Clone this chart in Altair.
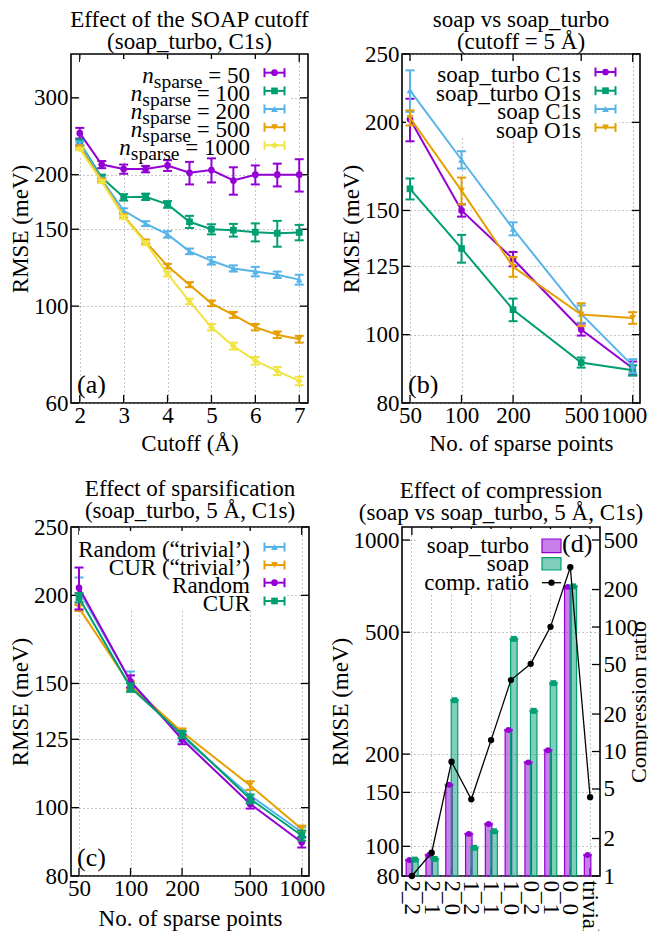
import altair as alt
import pandas as pd

FONT = "Liberation Serif"
FS = 23
PURPLE, GREEN, BLUE, ORANGE, YELLOW = "#9400d3", "#009e73", "#56b4e9", "#e69f00", "#f0e442"

# ---------------- panel (a): effect of cutoff ----------------
cutoff = [2, 2.5, 3, 3.5, 4, 4.5, 5, 5.5, 6, 6.5, 7]
a_n50 = [249, 211, 206, 206, 210, 202, 205, 194, 200, 200, 200]
a_n50_err = [7, 4, 5, 3.5, 6, 12, 13, 14, 10, 12, 17]
a_n100 = [237, 197, 177.5, 178, 171, 156, 150, 149.3, 147.7, 146.8, 147.5]
a_n100_err = [4, 3, 3, 3, 3, 5, 4, 5, 7, 10, 6]
a_n200 = [236, 195, 165.5, 154.5, 146, 133.5, 127, 122, 120, 118, 115]
a_n200_err = [2, 2, 2, 2, 2.5, 2, 2.5, 2, 3, 2, 3]
a_n500 = [231, 194, 161, 140.5, 123.5, 112, 101.5, 95.5, 89.5, 86, 84]
a_n500_err = [2, 1.5, 1.5, 1.5, 1.5, 1.5, 1.5, 1.5, 1.5, 1.5, 1.5]
a_n1000 = [229, 193, 160, 139.5, 118.5, 102.5, 89.5, 81, 75, 71, 67.4]
a_n1000_err = [1.5, 1.5, 1.5, 1.5, 1.5, 1.5, 1.5, 1.5, 1.5, 1.5, 1.5]
a_labels = ["50", "100", "200", "500", "1000"]

# ---------------- panel (b): soap vs soap_turbo ----------------
sparse = [50, 100, 200, 500, 1000]
b_turbo_c = [202, 150, 128, 101.7, 89.6]
b_turbo_c_err = [14, 3, 3, 2, 2]
b_turbo_o = [161, 132.5, 108.5, 91.3, 89]
b_turbo_o_err = [5.5, 6, 4, 1.5, 1.5]
b_soap_c = [222, 177, 141.3, 107, 90.3]
b_soap_c_err = [15, 5, 3, 3, 2]
b_soap_o = [203, 160, 124.8, 106.8, 105.6]
b_soap_o_err = [5, 7, 4, 4, 2]
b_labels = ["soap_turbo C1s", "soap_turbo O1s", "soap C1s", "soap O1s"]

# ---------------- panel (c): sparsification ----------------
c_rand_triv = [203, 151, 126, 104, 92.3]
c_rand_triv_err = [9, 5, 2, 2, 1.5]
c_cur_triv = [192, 149, 128, 107.5, 93.3]
c_cur_triv_err = [2, 2, 1.5, 1.5, 1]
c_rand = [205, 151, 125, 101.2, 89.3]
c_rand_err = [14, 3, 2, 1.5, 1.5]
c_cur = [198.5, 148, 127, 102.9, 91.3]
c_cur_err = [3, 2, 1.5, 1.5, 1.5]
c_labels = ["Random (\u201ctrivial\u2019)", "CUR (\u201ctrivial\u2019)", "Random", "CUR"]

# ---------------- panel (d): compression ----------------
d_cats = ["2_2", "2_1", "2_0", "1_2", "1_1", "1_0", "0_2", "0_1", "0_0", "trivial"]
d_turbo = [90.2, 93.7, 158.8, 109.8, 118.3, 239.7, 188, 206, 703, 93.7]
d_soap_cats = ["2_2", "2_1", "2_0", "1_2", "1_1", "1_0", "0_2", "0_1", "0_0"]
d_soap = [90.5, 91, 300, 98.9, 112, 475.7, 277, 341, 706]
d_ratio = [1, 1.54, 8.27, 4.13, 12.35, 37.5, 50.6, 100.3, 302, 4.3]
d_labels = ["soap_turbo", "soap", "comp. ratio"]

H = 349
DUMMY = pd.DataFrame({"a": [0]})
TICK_L = 8


def series(x, y, err, color, shape, X, yscale, yaxis):
    df = pd.DataFrame({"x": x, "y": y,
                       "lo": [v - e for v, e in zip(y, err)],
                       "hi": [v + e for v, e in zip(y, err)]})
    base = alt.Chart(df)
    Y = alt.Y("y:Q", scale=yscale, axis=yaxis)
    Ylo = alt.Y("lo:Q", scale=yscale, axis=yaxis)
    Yhi = alt.Y("hi:Q", scale=yscale, axis=yaxis)
    return [
        base.mark_line(color=color, strokeWidth=2).encode(x=X, y=Y),
        base.mark_rule(color=color, strokeWidth=2).encode(x=X, y=Ylo, y2="hi:Q"),
        base.mark_rule(color=color, strokeWidth=2, xOffset=-4.5, x2Offset=4.5).encode(x=X, x2="x:Q", y=Ylo),
        base.mark_rule(color=color, strokeWidth=2, xOffset=-4.5, x2Offset=4.5).encode(x=X, x2="x:Q", y=Yhi),
        base.mark_point(shape=shape, filled=True, size=45, color=color, opacity=1).encode(x=X, y=Y),
    ]


def yticks(vals, yscale, yaxis, W, left=True, right=True):
    df = pd.DataFrame({"t": vals})
    Y = alt.Y("t:Q", scale=yscale, axis=yaxis)
    out = []
    if left:
        out.append(alt.Chart(df).mark_rule(color="black", strokeWidth=1.3).encode(
            y=Y, x=alt.value(0), x2=alt.value(TICK_L)))
    if right:
        out.append(alt.Chart(df).mark_rule(color="black", strokeWidth=1.3).encode(
            y=Y, x=alt.value(W - TICK_L), x2=alt.value(W)))
    return out


def xticks(df, X):
    return [
        alt.Chart(df).mark_rule(color="black", strokeWidth=1.3).encode(
            x=X, y=alt.value(0), y2=alt.value(TICK_L)),
        alt.Chart(df).mark_rule(color="black", strokeWidth=1.3).encode(
            x=X, y=alt.value(H - TICK_L), y2=alt.value(H)),
    ]


def box(x0, x1, y0, y1):
    return alt.Chart(DUMMY).mark_rect(fill="white", stroke=None).encode(
        x=alt.value(x0), x2=alt.value(x1), y=alt.value(y0), y2=alt.value(y1))


def text(s, x, y, align="right", size=FS, style="normal"):
    return alt.Chart(DUMMY).mark_text(
        text=s, align=align, baseline="alphabetic", font=FONT, fontSize=size,
        fontStyle=style, color="black").encode(x=alt.value(x), y=alt.value(y))


def err_symbol(cx, cy, color, shape):
    return [
        alt.Chart(DUMMY).mark_rule(color=color, strokeWidth=2).encode(
            x=alt.value(cx - 10), x2=alt.value(cx + 10), y=alt.value(cy)),
        alt.Chart(DUMMY).mark_rule(color=color, strokeWidth=2).encode(
            x=alt.value(cx - 10), y=alt.value(cy - 4.5), y2=alt.value(cy + 4.5)),
        alt.Chart(DUMMY).mark_rule(color=color, strokeWidth=2).encode(
            x=alt.value(cx + 10), y=alt.value(cy - 4.5), y2=alt.value(cy + 4.5)),
        alt.Chart(DUMMY).mark_point(shape=shape, filled=True, size=45, color=color, opacity=1).encode(
            x=alt.value(cx), y=alt.value(cy)),
    ]


# Times / Liberation Serif advance widths (per em)
WID = {" ": 0.25, "=": 0.564, "s": 0.389, "p": 0.5, "a": 0.444, "r": 0.333, "e": 0.444}
for d in "0123456789":
    WID[d] = 0.5


def tw(s, size):
    return sum(WID[c] for c in s) * size


PANEL_LABEL_SIZE = 26
COLORS = [PURPLE, GREEN, BLUE, ORANGE, YELLOW]
SHAPES = ["circle", "square", "triangle-up", "triangle-down", "diamond"]


def two_line_title(l1, l2, off):
    return alt.Title(l1, subtitle=l2, offset=off)


# ================= panel (a) =================
WA = 237
xs_a = alt.Scale(domain=[1.8, 7.2], nice=False, zero=False)
ys_a = alt.Scale(type="log", domain=[60, 378], nice=False)
ax_a_x = alt.Axis(values=[2, 3, 4, 5, 6, 7], title="Cutoff (\u00c5)", format="d")
ax_a_y = alt.Axis(values=[60, 100, 150, 200, 300], title="RMSE (meV)", format="d")
Xa = alt.X("x:Q", scale=xs_a, axis=ax_a_x)

layers_a = []
layers_a += xticks(pd.DataFrame({"x": [2, 3, 4, 5, 6, 7]}), Xa)
layers_a += yticks([60, 100, 150, 200, 300], ys_a, ax_a_y, WA)
layers_a.append(box(9, 219, 5, 102))
for yv, ev, col, shp in zip([a_n50, a_n100, a_n200, a_n500, a_n1000],
                            [a_n50_err, a_n100_err, a_n200_err, a_n500_err, a_n1000_err],
                            COLORS, SHAPES):
    layers_a += series(cutoff, yv, ev, col, shp, Xa, ys_a, ax_a_y)
rows_a = [18.7, 36.9, 55.0, 73.2, 91.3]
SUB = 19.5
for lab, ry, col, shp in zip(a_labels, rows_a, COLORS, SHAPES):
    base_y = ry + 10
    eq = "= " + lab
    w1 = tw(eq, FS) + tw(" ", FS)
    w2 = tw("sparse", SUB)
    layers_a.append(text(eq, 179, base_y))
    layers_a.append(text("sparse", 179 - w1, base_y + 5, size=SUB))
    layers_a.append(text("n", 179 - w1 - w2, base_y, style="italic"))
    layers_a += err_symbol(203.5, ry, col, shp)
layers_a.append(text("(a)", 6, 338.5, align="left", size=PANEL_LABEL_SIZE))

panel_a = alt.layer(*layers_a).properties(
    width=WA, height=H,
    title=two_line_title("Effect of the SOAP cutoff", "(soap_turbo, C1s)", -1))

# ================= panels (b), (c) =================
WB = 238
xs_b = alt.Scale(type="log", domain=[44.9, 1103], nice=False)
ys_b = alt.Scale(type="log", domain=[80, 250], nice=False)
ax_b_x = alt.Axis(values=sparse, title="No. of sparse points", format="d",
                  labelFlush=7.6, labelFlushOffset=14)
ax_c_x = alt.Axis(values=sparse, title="No. of sparse points", format="d", titlePadding=7)
ax_b_y = alt.Axis(values=[80, 100, 125, 150, 200, 250], title="RMSE (meV)", format="d")


def sparse_panel(xaxis, series_list, labels, rows, colors, shapes, boxdims, panel_label, title, toff):
    Xb = alt.X("x:Q", scale=xs_b, axis=xaxis)
    L = []
    L += xticks(pd.DataFrame({"x": sparse}), Xb)
    L += yticks([80, 100, 125, 150, 200, 250], ys_b, ax_b_y, WB)
    L.append(box(*boxdims))
    for (yv, ev), col, shp in zip(series_list, colors, shapes):
        L += series(sparse, yv, ev, col, shp, Xb, ys_b, ax_b_y)
    for lab, ry, col, shp in zip(labels, rows, colors, shapes):
        L.append(text(lab, 179, ry + 10))
        L += err_symbol(203.5, ry, col, shp)
    L.append(text(panel_label, 6, 338.5, align="left", size=PANEL_LABEL_SIZE))
    return alt.layer(*L).properties(width=WB, height=H, title=two_line_title(title[0], title[1], toff))


panel_b = sparse_panel(
    ax_b_x,
    [(b_turbo_c, b_turbo_c_err), (b_turbo_o, b_turbo_o_err),
     (b_soap_c, b_soap_c_err), (b_soap_o, b_soap_o_err)],
    b_labels, [18, 36.7, 55, 73.5],
    [PURPLE, GREEN, BLUE, ORANGE], ["circle", "square", "triangle-up", "triangle-down"],
    (4, 217, 7, 84), "(b)", ["soap vs soap_turbo", "(cutoff = 5 \u00c5)"], -11)

panel_c = sparse_panel(
    ax_c_x,
    [(c_rand_triv, c_rand_triv_err), (c_cur_triv, c_cur_triv_err),
     (c_rand, c_rand_err), (c_cur, c_cur_err)],
    c_labels, [20, 38, 55.7, 74],
    [BLUE, ORANGE, PURPLE, GREEN], ["triangle-up", "triangle-down", "circle", "square"],
    (8, 216, 4, 82), "(c)", ["Effect of sparsification", "(soap_turbo, 5 \u00c5, C1s)"], -7)

# ================= panel (d) =================
WD = 198
xs_d = alt.Scale(domain=d_cats, paddingInner=0, paddingOuter=0)
ax_d_x = alt.Axis(title=None, labelAngle=90, labelAlign="left", labelBaseline="middle",
                  bandPosition=0.5, labelPadding=4)
ys_dl = alt.Scale(type="log", domain=[80, 1103], nice=False)
ys_dr = alt.Scale(type="log", domain=[1, 636], nice=False)
ax_dl = alt.Axis(values=[80, 100, 150, 200, 500, 1000], title="RMSE (meV)", format="d")
ax_dr = alt.Axis(values=[1, 2, 5, 10, 20, 50, 100, 200, 500], title="Compression ratio",
                 format="d", orient="right", grid=False, titleAngle=-90, titleBaseline="top",
                 labelPadding=3, titlePadding=-9, titleFontSize=22)
Xd = alt.X("c:N", sort=d_cats, scale=xs_d, axis=ax_d_x)

df_turbo = pd.DataFrame({"c": d_cats, "v": d_turbo})
df_soap = pd.DataFrame({"c": d_soap_cats, "v": d_soap})
df_ratio = pd.DataFrame({"c": d_cats, "r": d_ratio})

left = []
left += xticks(pd.DataFrame({"c": d_cats}), Xd)
left += yticks([80, 100, 150, 200, 500, 1000], ys_dl, ax_dl, WD, left=True, right=False)
left.append(box(14, 197, 2, 67))
Yl = alt.Y("v:Q", scale=ys_dl, axis=ax_dl)
for df, col, off in [(df_turbo, PURPLE, -2.5), (df_soap, GREEN, 3)]:
    left.append(alt.Chart(df).mark_bar(width=6.5, xOffset=off, fill=col, fillOpacity=0.5,
                                       stroke=col, strokeWidth=1.2).encode(
        x=Xd, y=Yl, y2=alt.datum(80)))
for df, col, off, shp in [(df_turbo, PURPLE, -2.5, "circle"), (df_soap, GREEN, 3, "square")]:
    left.append(alt.Chart(df).mark_tick(color=col, size=9, thickness=2.5, xOffset=off,
                                        orient="horizontal").encode(x=Xd, y=Yl))
    left.append(alt.Chart(df).mark_point(shape=shp, filled=True, size=35, color=col, opacity=1,
                                         xOffset=off).encode(x=Xd, y=Yl))
left_group = alt.layer(*left)

Yr = alt.Y("r:Q", scale=ys_dr, axis=ax_dr)
right = []
right += yticks([1, 2, 5, 10, 20, 50, 100, 200, 500], ys_dr, ax_dr, WD, left=False, right=True)
right.append(alt.Chart(df_ratio).mark_line(color="black", strokeWidth=1.3).encode(x=Xd, y=Yr))
right.append(alt.Chart(df_ratio).mark_circle(color="black", size=40, opacity=1).encode(x=Xd, y=Yr))
right_group = alt.layer(*right)

leg_d = []
leg_d.append(text(d_labels[0], 127, 26))
leg_d.append(text(d_labels[1], 127, 44))
leg_d.append(text(d_labels[2], 127, 62.5))
leg_d.append(alt.Chart(DUMMY).mark_rect(fill=PURPLE, fillOpacity=0.5, stroke=PURPLE, strokeWidth=1.2).encode(
    x=alt.value(140), x2=alt.value(159), y=alt.value(12), y2=alt.value(25.7)))
leg_d.append(alt.Chart(DUMMY).mark_rect(fill=GREEN, fillOpacity=0.5, stroke=GREEN, strokeWidth=1.2).encode(
    x=alt.value(140), x2=alt.value(159), y=alt.value(30.7), y2=alt.value(43)))
leg_d.append(alt.Chart(DUMMY).mark_rule(color="black", strokeWidth=1.3).encode(
    x=alt.value(140), x2=alt.value(159), y=alt.value(55.7)))
leg_d.append(alt.Chart(DUMMY).mark_circle(color="black", size=40, opacity=1).encode(
    x=alt.value(149.5), y=alt.value(55.7)))
leg_d.append(text("(d)", 160, 24.5, align="left", size=PANEL_LABEL_SIZE))

panel_d = alt.layer(left_group, right_group, *leg_d).resolve_scale(y="independent").properties(
    width=WD, height=H,
    title=two_line_title("Effect of compression", "(soap vs soap_turbo, 5 \u00c5, C1s)", 1))

chart = alt.concat(
    panel_a, panel_b, panel_c, panel_d, columns=2,
    spacing={"row": 124, "column": 93}, bounds="flush",
    padding={"left": 0, "top": 0, "right": -3, "bottom": 5},
).configure_view(
    stroke="black", strokeWidth=1.6
).configure_axis(
    labelFont=FONT, titleFont=FONT, labelFontSize=FS, titleFontSize=FS,
    titleFontWeight="normal", labelColor="black", titleColor="black",
    domain=False, ticks=False, grid=True, gridColor="#8a8a8a", gridDash=[1, 3],
    gridWidth=1, labelFlush=False, labelOverlap=False, labelPadding=3, titlePadding=1,
).configure_axisX(
    titlePadding=5, labelPadding=1
).configure_title(
    font=FONT, fontSize=FS, fontWeight="normal", anchor="middle", frame="group",
    color="black",
    subtitleFont=FONT, subtitleFontSize=FS, subtitleColor="black", subtitlePadding=-1
)

chart.save("out.html", embed_options={"renderer": "svg", "actions": False})
